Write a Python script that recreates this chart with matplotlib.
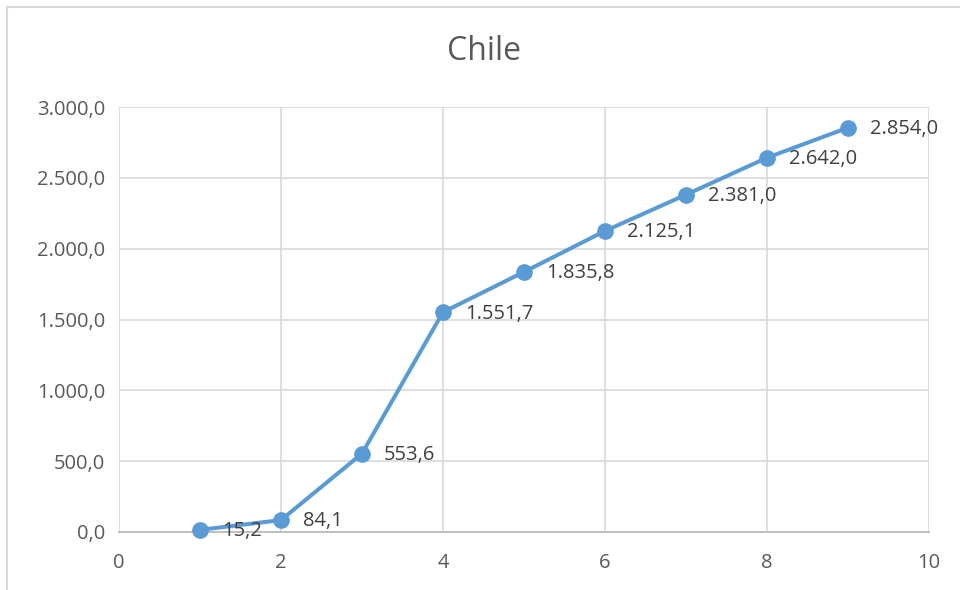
import matplotlib
matplotlib.use("Agg")
import matplotlib.pyplot as plt
from matplotlib.ticker import FuncFormatter
from matplotlib.patches import Rectangle

x_vals = [1, 2, 3, 4, 5, 6, 7, 8, 9]
y_vals = [15.2, 84.1, 553.6, 1551.7, 1835.8, 2125.1, 2381.0, 2642.0, 2854.0]
title = "Chile"

plt.rcParams['font.family'] = ['Open Sans', 'DejaVu Sans']


def fmt_es(v, pos=None):
    s = f"{v:,.1f}"
    return s.replace(",", "X").replace(".", ",").replace("X", ".")


fig = plt.figure(figsize=(9.6, 5.9), dpi=100)
ax = fig.add_axes([119 / 960, 1 - 532 / 590, 810 / 960, 425 / 590])

# marco del gráfico
fig.patches.append(Rectangle((7 / 960, -0.01), 1.0, 1 - 7 / 590 + 0.01,
                             transform=fig.transFigure, fill=False,
                             edgecolor='#D9D9D9', linewidth=1.5))

line_color = '#5B9BD5'
ax.plot(x_vals, y_vals, color=line_color, linewidth=2.9, marker='o',
        markersize=11, zorder=3, clip_on=False)

for xv, yv in zip(x_vals, y_vals):
    ax.annotate(fmt_es(yv), (xv, yv), xytext=(16, -1), textcoords='offset points',
                ha='left', va='center', fontsize=14.5, color='#404040', zorder=4)

ax.set_xlim(0, 10)
ax.set_ylim(0, 3000)
ax.set_xticks(range(0, 11, 2))
ax.set_yticks(range(0, 3001, 500))
ax.yaxis.set_major_formatter(FuncFormatter(fmt_es))

ax.grid(True, color='#D9D9D9', linewidth=1.2)
ax.set_axisbelow(True)
for side in ['left', 'right', 'top']:
    ax.spines[side].set_visible(False)
ax.spines['bottom'].set_color('#BFBFBF')
ax.spines['bottom'].set_linewidth(1.4)
ax.tick_params(length=0, labelsize=14.5, labelcolor='#595959')
ax.tick_params(axis='x', pad=15)
ax.tick_params(axis='y', pad=10)

fig.text(0.5 * (0 + 1) + 4 / 960, 1 - 51 / 590, title, ha='center', va='center',
         fontsize=23, color='#595959')

fig.savefig("out.png", dpi=100)
